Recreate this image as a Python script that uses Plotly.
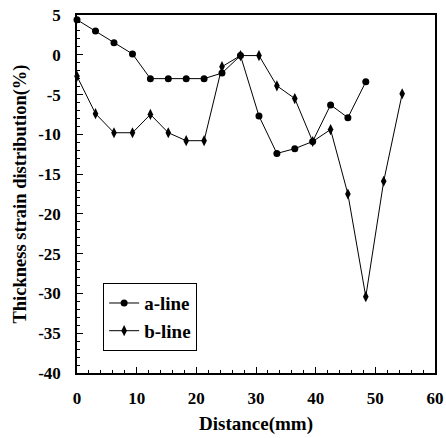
import plotly.graph_objects as go

distance = [0, 3.1, 6.2, 9.3, 12.3, 15.3, 18.3, 21.3, 24.3, 27.4, 30.5,
            33.5, 36.5, 39.5, 42.5, 45.4, 48.4, 51.4, 54.5]
a_line = [4.4, 3.0, 1.5, 0.1, -3.0, -3.0, -3.0, -3.0, -2.3, -0.1, -7.7,
          -12.4, -11.8, -10.9, -6.3, -7.9, -3.4]
b_line = [-2.7, -7.4, -9.8, -9.8, -7.5, -9.8, -10.8, -10.8, -1.5, -0.1, -0.1,
          -3.9, -5.5, -10.9, -9.4, -17.5, -30.4, -15.9, -4.9]

x_ticks = [0, 10, 20, 30, 40, 50, 60]
y_ticks = [5, 0, -5, -10, -15, -20, -25, -30, -35, -40]
y_tick_labels = ["5", "0", "-5", "-10", "-15", "-20", "-25", "-30", "-35", "-40"]

FONT = "Liberation Serif"

fig = go.Figure()
fig.add_trace(go.Scatter(
    x=distance[:len(a_line)], y=a_line, name="<b>a-line</b>", mode="lines+markers",
    line=dict(color="black", width=1),
    marker=dict(symbol="circle", size=7, color="black"),
    cliponaxis=False))
fig.add_trace(go.Scatter(
    x=distance[:len(b_line)], y=b_line, name="<b>b-line</b>", mode="lines+markers",
    line=dict(color="black", width=1),
    marker=dict(symbol="diamond-tall", size=8, color="black"),
    cliponaxis=False))

fig.update_layout(
    width=446, height=438,
    margin=dict(l=77, r=11, t=15, b=65),
    paper_bgcolor="white", plot_bgcolor="white",
    font=dict(family=FONT, color="black"),
    showlegend=True,
    legend=dict(x=0.073, y=0.251, xanchor="left", yanchor="top",
                bordercolor="black", borderwidth=1, bgcolor="white",
                font=dict(family=FONT, size=19, color="black"),
                itemwidth=30, tracegroupgap=0),
    xaxis=dict(range=[0, 60], tickvals=x_ticks, showgrid=False, zeroline=False,
               automargin=False,
               showline=True, linecolor="black", linewidth=1.5, mirror=True,
               ticks="inside", ticklen=6, tickcolor="black",
               minor=dict(dtick=2, ticks="inside", ticklen=3, tickcolor="black"),
               tickfont=dict(family=FONT, size=17, color="black", weight="bold"),
               ticklabelstandoff=9,
               title=dict(text="<b>Distance(mm)</b>", standoff=10,
                          font=dict(family=FONT, size=19, color="black"))),
    yaxis=dict(range=[-40, 5], tickvals=y_ticks, ticktext=y_tick_labels,
               showgrid=False, zeroline=False, automargin=False,
               showline=True, linecolor="black", linewidth=1.5, mirror=True,
               ticks="inside", ticklen=6, tickcolor="black",
               minor=dict(dtick=1, ticks="inside", ticklen=3, tickcolor="black"),
               tickfont=dict(family=FONT, size=17, color="black", weight="bold"),
               ticklabelstandoff=11,
               title=dict(text="<b>Thickness strain distribution(%)</b>", standoff=7,
                          font=dict(family=FONT, size=18.5, color="black"))),
)

fig.write_html("out.html", config={"displayModeBar": False},
               post_script="document.body.style.margin='0';document.body.style.padding='0';")
